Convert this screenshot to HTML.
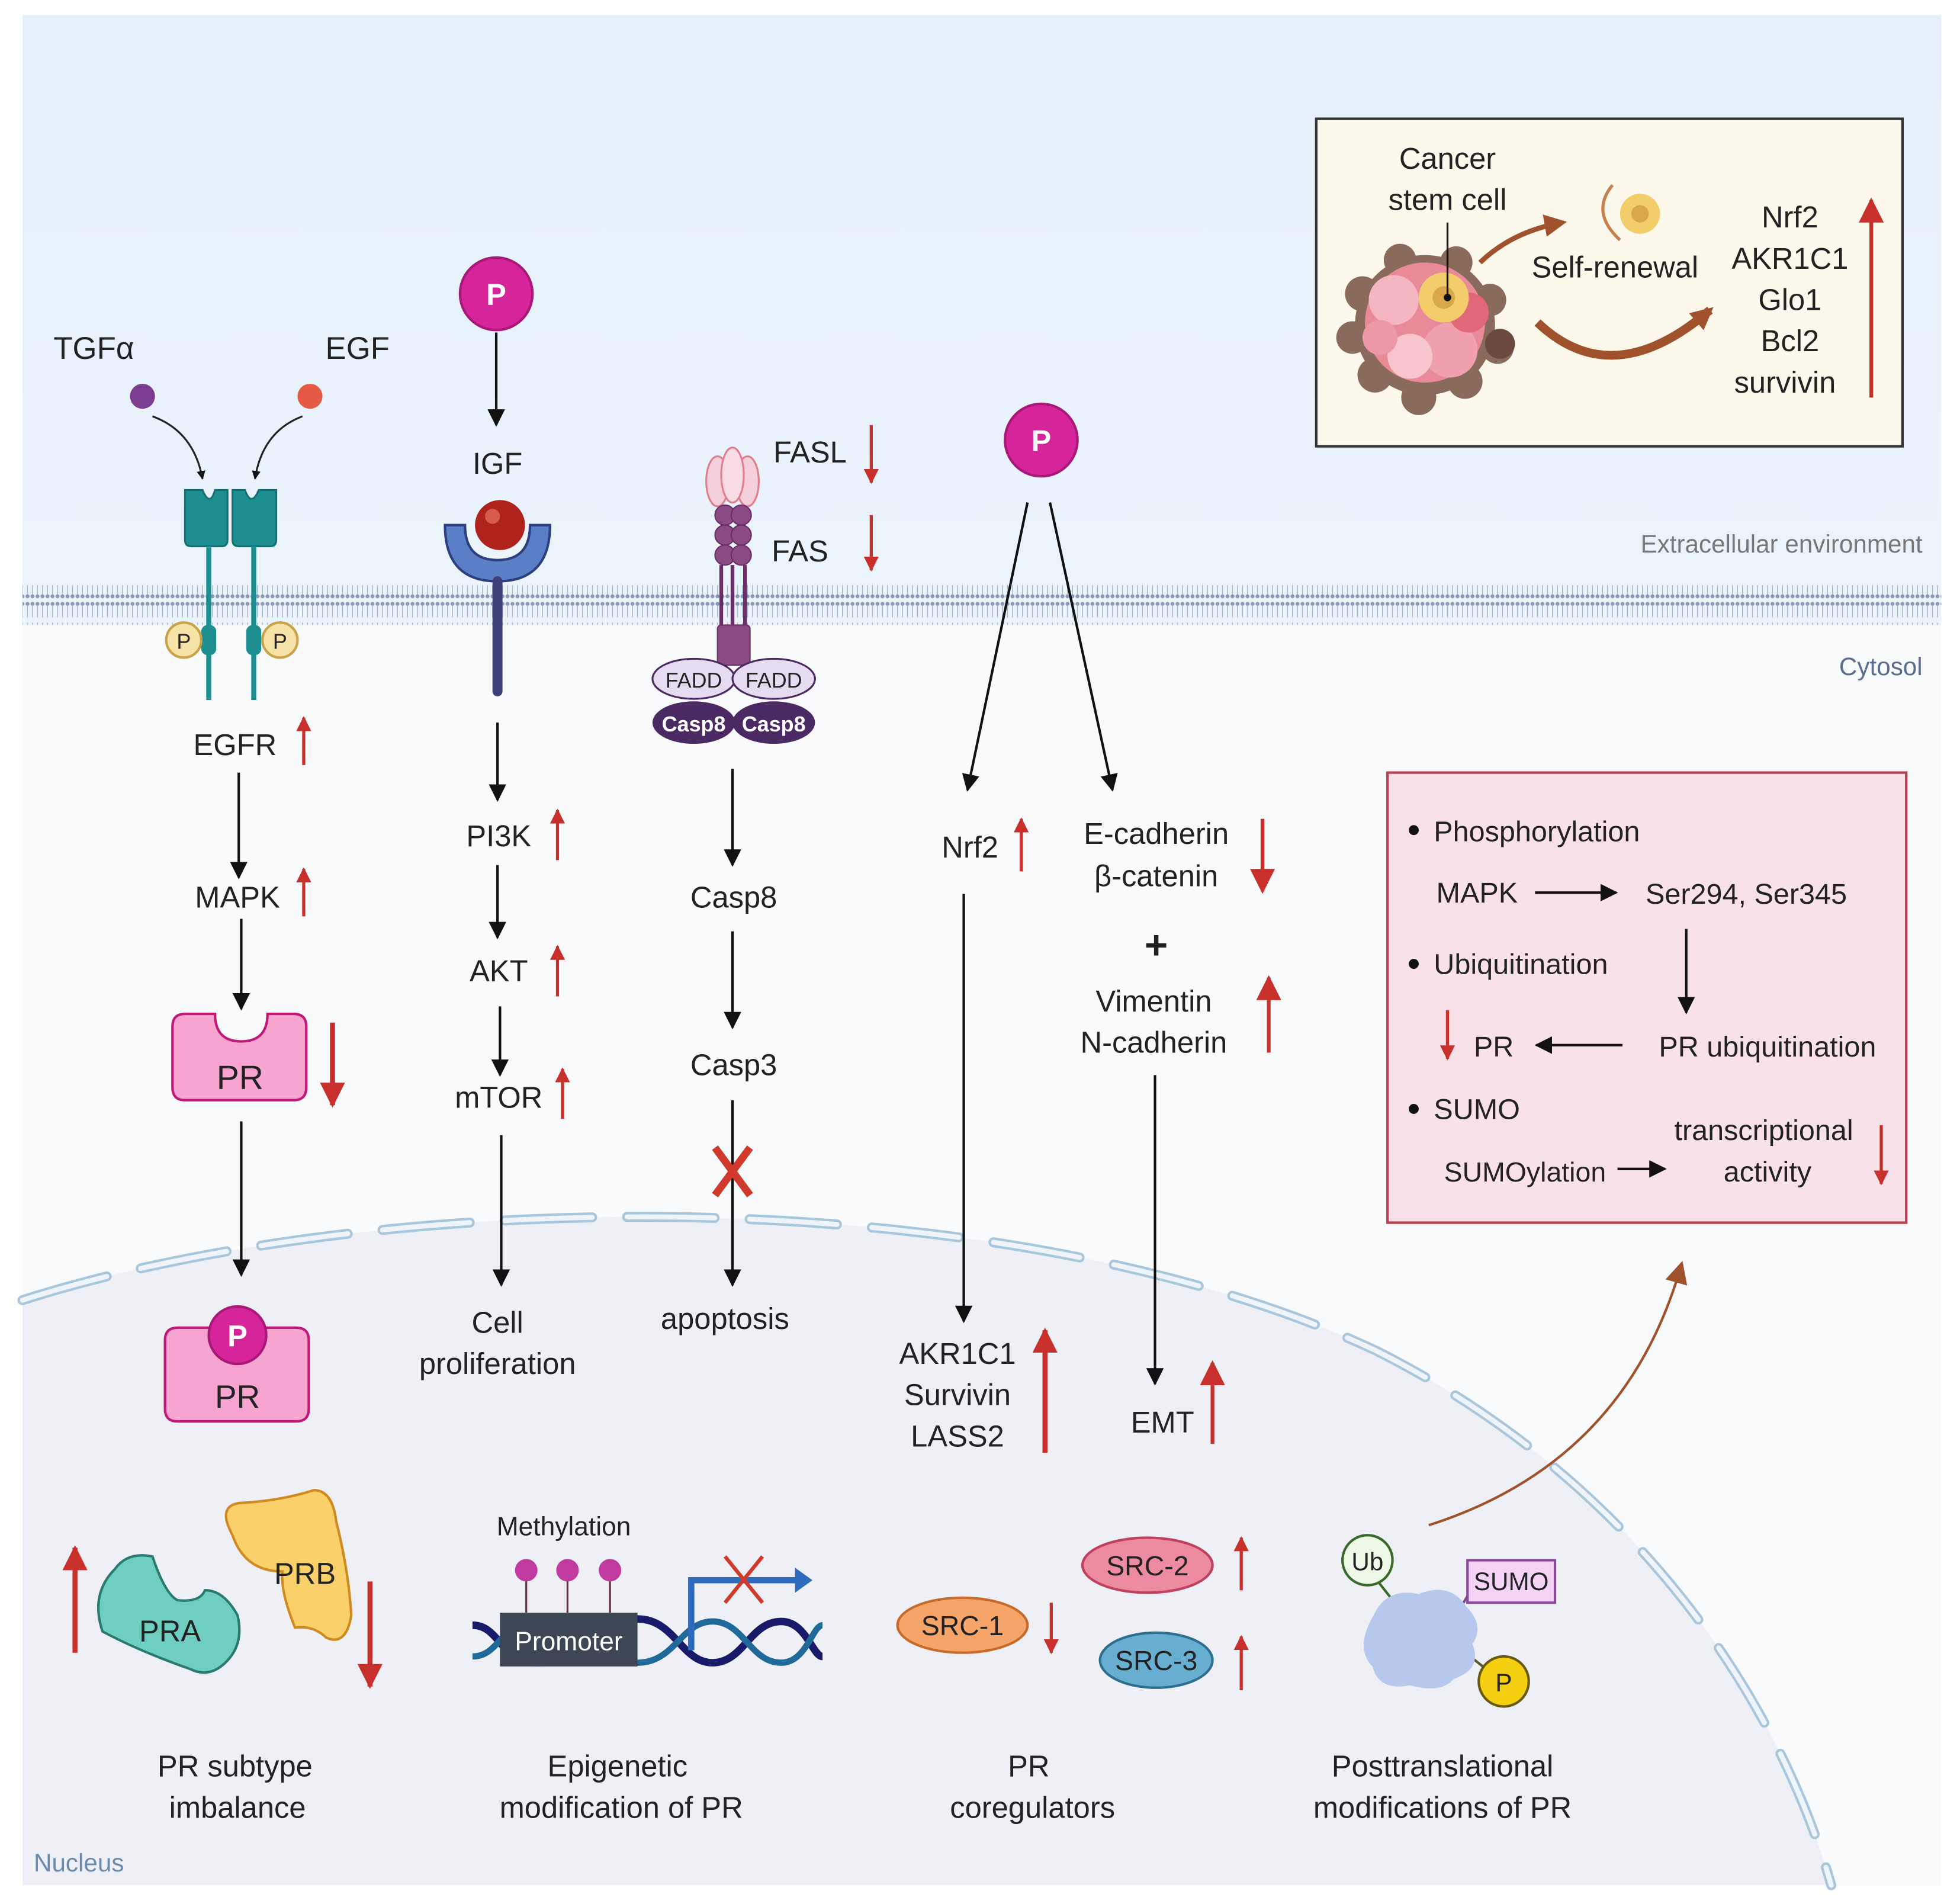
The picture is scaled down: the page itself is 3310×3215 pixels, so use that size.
<!DOCTYPE html>
<html><head><meta charset="utf-8"><style>
html,body{margin:0;padding:0;background:#fff;}
svg{display:block;}
text{font-family:"Liberation Sans",sans-serif;fill:#222;}
</style></head><body>
<svg width="3310" height="3215" viewBox="0 0 1568 1523" preserveAspectRatio="none" xmlns="http://www.w3.org/2000/svg">
<defs>
<linearGradient id="bg" x1="0" y1="0" x2="0" y2="1">
<stop offset="0" stop-color="#e5f0fa"/><stop offset="1" stop-color="#fafcfe"/>
</linearGradient>
<marker id="ah" viewBox="0 0 10 10" refX="9" refY="5" markerWidth="7" markerHeight="7" orient="auto" markerUnits="userSpaceOnUse">
<path d="M0,0 L10,5 L0,10 z" fill="#111"/></marker>
<marker id="bk" viewBox="0 0 10 10" refX="9" refY="5" markerWidth="14" markerHeight="14" orient="auto" markerUnits="userSpaceOnUse">
<path d="M0,0 L10,5 L0,10 z" fill="#111"/></marker>
<marker id="rd" viewBox="0 0 10 10" refX="9" refY="5" markerWidth="12" markerHeight="12" orient="auto" markerUnits="userSpaceOnUse">
<path d="M0,0 L10,5 L0,10 z" fill="#c8302c"/></marker>
<marker id="rdb" viewBox="0 0 10 10" refX="9" refY="5" markerWidth="20" markerHeight="20" orient="auto" markerUnits="userSpaceOnUse">
<path d="M0,0 L10,5 L0,10 z" fill="#c8302c"/></marker>
<marker id="br" viewBox="0 0 10 10" refX="8" refY="5" markerWidth="18" markerHeight="18" orient="auto" markerUnits="userSpaceOnUse">
<path d="M0,0 L10,5 L0,10 z" fill="#a0522d"/></marker>
<pattern id="mem" width="4" height="32" patternUnits="userSpaceOnUse">
<circle cx="2" cy="3" r="1.6" fill="#8a9ab8"/><line x1="2" y1="4" x2="2" y2="14" stroke="#aab6cc" stroke-width="0.7"/>
<line x1="2" y1="18" x2="2" y2="28" stroke="#aab6cc" stroke-width="0.7"/><circle cx="2" cy="29" r="1.6" fill="#8a9ab8"/>
</pattern>
</defs>
<rect x="18" y="12" width="1535" height="1496" fill="url(#bg)"/>
<rect x="18" y="500" width="1535" height="1008" fill="#f8fafc"/>
<path d="M18,1040 C300,950 800,940 1100,1080 C1300,1180 1420,1350 1465,1508 L18,1508 Z" fill="#eef0f5"/>
<path d="M18,1040 C300,950 800,940 1100,1080 C1300,1180 1420,1350 1465,1508" fill="none" stroke="#a8c6dc" stroke-width="8" stroke-dasharray="70,28" stroke-linecap="round"/>
<path d="M18,1040 C300,950 800,940 1100,1080 C1300,1180 1420,1350 1465,1508" fill="none" stroke="#eef4f9" stroke-width="4" stroke-dasharray="70,28" stroke-linecap="round"/>
<rect x="18" y="468" width="1535" height="32" fill="url(#mem)"/>
<text x="1538" y="442" font-size="20" text-anchor="end" style="fill:#777">Extracellular environment</text>
<text x="1538" y="540" font-size="20" text-anchor="end" style="fill:#5a6d90">Cytosol</text>
<text x="27" y="1497" font-size="20" style="fill:#6a8ab0">Nucleus</text>

<text x="75" y="287" font-size="25" text-anchor="middle">TGFα</text>
<text x="286" y="287" font-size="25" text-anchor="middle">EGF</text>
<circle cx="114" cy="317" r="10" fill="#7a3d8f"/>
<circle cx="248" cy="317" r="10" fill="#e65a45"/>
<path d="M122,333 Q155,345 162,383" fill="none" stroke="#222" stroke-width="1.5" marker-end="url(#ah)"/>
<path d="M242,333 Q210,345 204,383" fill="none" stroke="#222" stroke-width="1.5" marker-end="url(#ah)"/>
<path d="M148,392 h14 q6,14 10,0 h10 v40 q0,5 -5,5 h-24 q-5,0 -5,-5z" fill="#1e8f91" stroke="#137073" stroke-width="1.5"/>
<path d="M186,392 h10 q5,14 11,0 h14 v40 q0,5 -5,5 h-25 q-5,0 -5,-5z" fill="#1e8f91" stroke="#137073" stroke-width="1.5"/>
<line x1="167" y1="437" x2="167" y2="560" stroke="#1e8f91" stroke-width="4"/>
<line x1="203" y1="437" x2="203" y2="560" stroke="#1e8f91" stroke-width="4"/>
<rect x="161" y="500" width="12" height="24" rx="5" fill="#1e8f91"/>
<rect x="197" y="500" width="12" height="24" rx="5" fill="#1e8f91"/>
<circle cx="147" cy="512" r="14" fill="#f7e3a8" stroke="#c9a24a" stroke-width="2"/><text x="147" y="519" font-size="17" text-anchor="middle">P</text>
<circle cx="224" cy="512" r="14" fill="#f7e3a8" stroke="#c9a24a" stroke-width="2"/><text x="224" y="519" font-size="17" text-anchor="middle">P</text>
<text x="188" y="604" font-size="24" text-anchor="middle">EGFR</text>
<line x1="243" y1="612" x2="243" y2="574" stroke="#c8302c" stroke-width="2.5" marker-end="url(#rd)"/>
<line x1="191" y1="618" x2="191" y2="702" stroke="#111" stroke-width="2" marker-end="url(#bk)"/>
<text x="190" y="726" font-size="24" text-anchor="middle">MAPK</text>
<line x1="243" y1="733" x2="243" y2="695" stroke="#c8302c" stroke-width="2.5" marker-end="url(#rd)"/>
<line x1="193" y1="735" x2="193" y2="807" stroke="#111" stroke-width="2" marker-end="url(#bk)"/>
<path d="M148,811 h24 q0,22 21,22 q21,0 21,-22 h21 q10,0 10,10 v49 q0,10 -10,10 h-87 q-10,0 -10,-10 v-49 q0,-10 10,-10z" fill="#f7a5d0" stroke="#c2187a" stroke-width="2"/>
<text x="192" y="871" font-size="27" text-anchor="middle">PR</text>
<line x1="266" y1="818" x2="266" y2="884" stroke="#c8302c" stroke-width="4" marker-end="url(#rdb)"/>
<line x1="193" y1="897" x2="193" y2="1020" stroke="#111" stroke-width="2" marker-end="url(#bk)"/>
<path d="M142,1062 h95 q10,0 10,10 v55 q0,10 -10,10 h-95 q-10,0 -10,-10 v-55 q0,-10 10,-10z" fill="#f7a5d0" stroke="#c2187a" stroke-width="2"/>
<circle cx="190" cy="1068" r="23" fill="#d6249a" stroke="#a81877" stroke-width="2"/>
<text x="190" y="1077" font-size="24" text-anchor="middle" style="fill:#fff" font-weight="bold">P</text>
<text x="190" y="1126" font-size="26" text-anchor="middle">PR</text>

<circle cx="397" cy="235" r="29" fill="#d6249a" stroke="#a81877" stroke-width="2"/>
<text x="397" y="244" font-size="24" text-anchor="middle" style="fill:#fff" font-weight="bold">P</text>
<line x1="397" y1="266" x2="397" y2="340" stroke="#111" stroke-width="2" marker-end="url(#bk)"/>
<text x="398" y="379" font-size="24" text-anchor="middle">IGF</text>
<path d="M356,420 q0,45 42,45 q42,0 42,-45 h-16 q0,28 -26,28 q-26,0 -26,-28z" fill="#5b7fc7" stroke="#2d3f80" stroke-width="2"/>
<circle cx="400" cy="420" r="20" fill="#b0221c"/><circle cx="394" cy="413" r="6" fill="#d65a50"/>
<line x1="398" y1="465" x2="398" y2="553" stroke="#3d3f7a" stroke-width="8" stroke-linecap="round"/>
<line x1="398" y1="578" x2="398" y2="640" stroke="#111" stroke-width="2" marker-end="url(#bk)"/>
<text x="399" y="677" font-size="24" text-anchor="middle">PI3K</text>
<line x1="446" y1="688" x2="446" y2="648" stroke="#c8302c" stroke-width="2.5" marker-end="url(#rd)"/>
<line x1="398" y1="692" x2="398" y2="750" stroke="#111" stroke-width="2" marker-end="url(#bk)"/>
<text x="399" y="785" font-size="24" text-anchor="middle">AKT</text>
<line x1="446" y1="797" x2="446" y2="757" stroke="#c8302c" stroke-width="2.5" marker-end="url(#rd)"/>
<line x1="400" y1="805" x2="400" y2="860" stroke="#111" stroke-width="2" marker-end="url(#bk)"/>
<text x="399" y="886" font-size="24" text-anchor="middle">mTOR</text>
<line x1="450" y1="895" x2="450" y2="855" stroke="#c8302c" stroke-width="2.5" marker-end="url(#rd)"/>
<line x1="401" y1="908" x2="401" y2="1028" stroke="#111" stroke-width="2" marker-end="url(#bk)"/>
<text x="398" y="1066" font-size="24" text-anchor="middle">Cell</text>
<text x="398" y="1099" font-size="24" text-anchor="middle">proliferation</text>

<ellipse cx="574" cy="385" rx="9" ry="20" fill="#f6cfdc" stroke="#e0808f" stroke-width="1.5"/>
<ellipse cx="598" cy="385" rx="9" ry="20" fill="#f6cfdc" stroke="#e0808f" stroke-width="1.5"/>
<ellipse cx="586" cy="380" rx="9" ry="22" fill="#f8dbe4" stroke="#e0808f" stroke-width="1.5"/>
<g fill="#8a4a84" stroke="#6a2d66" stroke-width="1">
<circle cx="580" cy="412" r="8"/><circle cx="593" cy="412" r="8"/>
<circle cx="580" cy="428" r="8"/><circle cx="593" cy="428" r="8"/>
<circle cx="580" cy="444" r="8"/><circle cx="593" cy="444" r="8"/>
</g>
<line x1="577" y1="452" x2="577" y2="505" stroke="#6a2d66" stroke-width="3"/>
<line x1="586" y1="452" x2="586" y2="505" stroke="#6a2d66" stroke-width="3"/>
<line x1="596" y1="452" x2="596" y2="505" stroke="#6a2d66" stroke-width="3"/>
<rect x="574" y="500" width="26" height="32" rx="3" fill="#8a4a84" stroke="#6a2d66"/>
<ellipse cx="555" cy="543" rx="33" ry="16" fill="#e6dcf2" stroke="#4b2a63" stroke-width="1.5"/>
<ellipse cx="619" cy="543" rx="33" ry="16" fill="#e6dcf2" stroke="#4b2a63" stroke-width="1.5"/>
<text x="555" y="550" font-size="17" text-anchor="middle">FADD</text>
<text x="619" y="550" font-size="17" text-anchor="middle">FADD</text>
<ellipse cx="555" cy="578" rx="33" ry="17" fill="#4b2a63"/>
<ellipse cx="619" cy="578" rx="33" ry="17" fill="#4b2a63"/>
<text x="555" y="585" font-size="17" text-anchor="middle" font-weight="bold" style="fill:#fff">Casp8</text>
<text x="619" y="585" font-size="17" text-anchor="middle" font-weight="bold" style="fill:#fff">Casp8</text>
<text x="648" y="370" font-size="24" text-anchor="middle">FASL</text>
<line x1="697" y1="340" x2="697" y2="386" stroke="#c8302c" stroke-width="2.5" marker-end="url(#rd)"/>
<text x="640" y="449" font-size="24" text-anchor="middle">FAS</text>
<line x1="697" y1="412" x2="697" y2="456" stroke="#c8302c" stroke-width="2.5" marker-end="url(#rd)"/>
<line x1="586" y1="615" x2="586" y2="692" stroke="#111" stroke-width="2" marker-end="url(#bk)"/>
<text x="587" y="726" font-size="24" text-anchor="middle">Casp8</text>
<line x1="586" y1="745" x2="586" y2="822" stroke="#111" stroke-width="2" marker-end="url(#bk)"/>
<text x="587" y="860" font-size="24" text-anchor="middle">Casp3</text>
<line x1="586" y1="880" x2="586" y2="1028" stroke="#111" stroke-width="2" marker-end="url(#bk)"/>
<path d="M572,918 L600,956 M600,918 L572,956" stroke="#d03a2c" stroke-width="6"/>
<text x="580" y="1063" font-size="24" text-anchor="middle">apoptosis</text>

<circle cx="833" cy="352" r="29" fill="#d6249a" stroke="#a81877" stroke-width="2"/>
<text x="833" y="361" font-size="24" text-anchor="middle" style="fill:#fff" font-weight="bold">P</text>
<line x1="822" y1="402" x2="774" y2="632" stroke="#111" stroke-width="2" marker-end="url(#bk)"/>
<line x1="840" y1="402" x2="890" y2="632" stroke="#111" stroke-width="2" marker-end="url(#bk)"/>
<text x="776" y="686" font-size="24" text-anchor="middle">Nrf2</text>
<line x1="817" y1="697" x2="817" y2="655" stroke="#c8302c" stroke-width="2.5" marker-end="url(#rd)"/>
<text x="925" y="675" font-size="24" text-anchor="middle">E-cadherin</text>
<text x="925" y="709" font-size="24" text-anchor="middle">β-catenin</text>
<line x1="1010" y1="655" x2="1010" y2="713" stroke="#c8302c" stroke-width="3" marker-end="url(#rdb)"/>
<text x="925" y="767" font-size="32" text-anchor="middle" font-weight="bold">+</text>
<text x="923" y="809" font-size="24" text-anchor="middle">Vimentin</text>
<text x="923" y="842" font-size="24" text-anchor="middle">N-cadherin</text>
<line x1="1015" y1="842" x2="1015" y2="782" stroke="#c8302c" stroke-width="3" marker-end="url(#rdb)"/>
<line x1="771" y1="715" x2="771" y2="1057" stroke="#111" stroke-width="2" marker-end="url(#bk)"/>
<text x="766" y="1091" font-size="24" text-anchor="middle">AKR1C1</text>
<text x="766" y="1124" font-size="24" text-anchor="middle">Survivin</text>
<text x="766" y="1157" font-size="24" text-anchor="middle">LASS2</text>
<line x1="836" y1="1162" x2="836" y2="1064" stroke="#c8302c" stroke-width="4" marker-end="url(#rdb)"/>
<line x1="924" y1="860" x2="924" y2="1107" stroke="#111" stroke-width="2" marker-end="url(#bk)"/>
<text x="930" y="1146" font-size="24" text-anchor="middle">EMT</text>
<line x1="970" y1="1155" x2="970" y2="1090" stroke="#c8302c" stroke-width="3" marker-end="url(#rdb)"/>

<rect x="1053" y="95" width="469" height="262" fill="#fdf8ec" stroke="#333" stroke-width="2"/>
<text x="1158" y="135" font-size="24" text-anchor="middle">Cancer</text>
<text x="1158" y="168" font-size="24" text-anchor="middle">stem cell</text>
<g>
<g fill="#8a6a5a"><circle cx="1090" cy="235" r="14"/><circle cx="1082" cy="270" r="13"/><circle cx="1100" cy="300" r="14"/><circle cx="1135" cy="318" r="14"/><circle cx="1172" cy="305" r="14"/><circle cx="1198" cy="278" r="13"/><circle cx="1192" cy="240" r="13"/><circle cx="1165" cy="210" r="13"/><circle cx="1120" cy="208" r="13"/></g>
<circle cx="1140" cy="260" r="56" fill="#8a6a5a"/>
<circle cx="1140" cy="258" r="48" fill="#e88a98"/>
<circle cx="1115" cy="240" r="20" fill="#f4b6c0"/><circle cx="1160" cy="280" r="22" fill="#f0a0ae"/>
<circle cx="1128" cy="285" r="18" fill="#f6c6cc"/><circle cx="1175" cy="250" r="16" fill="#e06878"/>
<circle cx="1104" cy="270" r="14" fill="#ec98a6"/><circle cx="1200" cy="275" r="12" fill="#6a4a3e"/>
<circle cx="1155" cy="238" r="20" fill="#f3cd6a"/><circle cx="1155" cy="238" r="9" fill="#d9a84a"/>
</g>
<line x1="1158" y1="178" x2="1158" y2="238" stroke="#111" stroke-width="1.5"/><circle cx="1158" cy="238" r="3" fill="#111"/>
<path d="M1184,210 Q1210,185 1250,178" fill="none" stroke="#a0522d" stroke-width="4" marker-end="url(#br)"/>
<circle cx="1312" cy="171" r="16" fill="#f3cd6a"/><circle cx="1312" cy="171" r="7" fill="#d9a84a"/>
<path d="M1290,148 Q1272,170 1296,192" fill="none" stroke="#c8804a" stroke-width="2.5"/>
<text x="1292" y="222" font-size="24" text-anchor="middle">Self-renewal</text>
<path d="M1230,258 Q1290,315 1368,248" fill="none" stroke="#a0522d" stroke-width="7" marker-end="url(#br)"/>
<text x="1432" y="182" font-size="24" text-anchor="middle">Nrf2</text>
<text x="1432" y="215" font-size="24" text-anchor="middle">AKR1C1</text>
<text x="1432" y="248" font-size="24" text-anchor="middle">Glo1</text>
<text x="1432" y="281" font-size="24" text-anchor="middle">Bcl2</text>
<text x="1428" y="314" font-size="24" text-anchor="middle">survivin</text>
<line x1="1497" y1="318" x2="1497" y2="160" stroke="#c8302c" stroke-width="3" marker-end="url(#rdb)"/>

<rect x="1110" y="618" width="415" height="360" fill="#f8e1e8" stroke="#b84050" stroke-width="2"/>
<circle cx="1131" cy="664" r="4" fill="#111"/><text x="1147" y="673" font-size="23">Phosphorylation</text>
<text x="1149" y="722" font-size="23">MAPK</text>
<line x1="1228" y1="714" x2="1293" y2="714" stroke="#111" stroke-width="2" marker-end="url(#bk)"/>
<text x="1397" y="723" font-size="23" text-anchor="middle">Ser294, Ser345</text>
<line x1="1349" y1="743" x2="1349" y2="810" stroke="#111" stroke-width="2" marker-end="url(#bk)"/>
<circle cx="1131" cy="771" r="4" fill="#111"/><text x="1147" y="779" font-size="23">Ubiquitination</text>
<line x1="1158" y1="808" x2="1158" y2="847" stroke="#c8302c" stroke-width="2.5" marker-end="url(#rd)"/>
<text x="1195" y="845" font-size="23" text-anchor="middle">PR</text>
<line x1="1298" y1="836" x2="1229" y2="836" stroke="#111" stroke-width="2" marker-end="url(#bk)"/>
<text x="1414" y="845" font-size="23" text-anchor="middle">PR ubiquitination</text>
<circle cx="1131" cy="887" r="4" fill="#111"/><text x="1147" y="895" font-size="23">SUMO</text>
<text x="1411" y="912" font-size="23" text-anchor="middle">transcriptional</text>
<text x="1414" y="945" font-size="23" text-anchor="middle">activity</text>
<text x="1220" y="945" font-size="22" text-anchor="middle">SUMOylation</text>
<line x1="1294" y1="935" x2="1332" y2="935" stroke="#111" stroke-width="2" marker-end="url(#bk)"/>
<line x1="1505" y1="900" x2="1505" y2="947" stroke="#c8302c" stroke-width="2.5" marker-end="url(#rd)"/>

<path d="M1143,1220 Q1300,1170 1345,1012" fill="none" stroke="#a0522d" stroke-width="2" marker-end="url(#br)"/>

<line x1="60" y1="1322" x2="60" y2="1238" stroke="#c8302c" stroke-width="4" marker-end="url(#rdb)"/>
<path d="M186,1228 q-14,-26 10,-26 q30,-2 55,-10 q15,0 18,25 q10,40 12,75 q-4,25 -20,18 q-10,-10 -25,-8 q-12,-30 -10,-45 q-30,0 -40,-29z" fill="#f9d06a" stroke="#d08a20" stroke-width="2"/>
<text x="244" y="1267" font-size="24" text-anchor="middle">PRB</text>
<path d="M82,1305 q-10,-30 10,-50 q10,-14 30,-10 q10,30 20,35 q18,2 22,-8 q15,0 26,20 q6,25 -12,40 q-12,10 -26,3 q-40,-14 -70,-30z" fill="#6ecfc0" stroke="#2a7a72" stroke-width="2"/>
<text x="136" y="1313" font-size="24" text-anchor="middle">PRA</text>
<line x1="296" y1="1265" x2="296" y2="1349" stroke="#c8302c" stroke-width="4" marker-end="url(#rdb)"/>
<text x="188" y="1421" font-size="24" text-anchor="middle">PR subtype</text>
<text x="190" y="1454" font-size="24" text-anchor="middle">imbalance</text>

<text x="451" y="1228" font-size="21" text-anchor="middle">Methylation</text>
<g stroke="#6a2d4a" stroke-width="1.5"><line x1="421" y1="1262" x2="421" y2="1292"/><line x1="454" y1="1262" x2="454" y2="1292"/><line x1="488" y1="1262" x2="488" y2="1292"/></g>
<circle cx="421" cy="1256" r="9" fill="#c03aa0"/><circle cx="454" cy="1256" r="9" fill="#c03aa0"/><circle cx="488" cy="1256" r="9" fill="#c03aa0"/>
<path d="M378,1300 C400,1300 400,1330 430,1330 C460,1330 470,1295 510,1295 C540,1295 545,1330 570,1330 C595,1330 600,1297 625,1297 C645,1297 650,1325 658,1325" fill="none" stroke="#1a1a6a" stroke-width="6"/>
<path d="M378,1325 C400,1325 400,1297 430,1297 C460,1297 470,1330 510,1330 C540,1330 545,1297 570,1297 C595,1297 600,1330 625,1330 C645,1330 650,1300 658,1300" fill="none" stroke="#1f6a9a" stroke-width="5"/>
<rect x="400" y="1290" width="110" height="43" fill="#3c4655"/>
<text x="455" y="1320" font-size="21" text-anchor="middle" style="fill:#fff">Promoter</text>
<path d="M553,1320 V1264 H640" fill="none" stroke="#2f6bbd" stroke-width="5"/>
<path d="M636,1254 L650,1264 L636,1274z" fill="#2f6bbd"/>
<path d="M580,1245 L610,1282 M610,1245 L580,1282" stroke="#d03a2c" stroke-width="3"/>
<text x="494" y="1421" font-size="24" text-anchor="middle">Epigenetic</text>
<text x="497" y="1454" font-size="24" text-anchor="middle">modification of PR</text>

<ellipse cx="918" cy="1252" rx="52" ry="22" fill="#ec8aa0" stroke="#c04060" stroke-width="2"/>
<text x="918" y="1260" font-size="22" text-anchor="middle">SRC-2</text>
<ellipse cx="770" cy="1300" rx="52" ry="22" fill="#f5a56a" stroke="#c86a2a" stroke-width="2"/>
<text x="770" y="1308" font-size="22" text-anchor="middle">SRC-1</text>
<ellipse cx="925" cy="1328" rx="45" ry="22" fill="#68aed0" stroke="#2e6f90" stroke-width="2"/>
<text x="925" y="1336" font-size="22" text-anchor="middle">SRC-3</text>
<line x1="993" y1="1272" x2="993" y2="1230" stroke="#c8302c" stroke-width="2.5" marker-end="url(#rd)"/>
<line x1="841" y1="1282" x2="841" y2="1322" stroke="#c8302c" stroke-width="2.5" marker-end="url(#rd)"/>
<line x1="993" y1="1352" x2="993" y2="1309" stroke="#c8302c" stroke-width="2.5" marker-end="url(#rd)"/>
<text x="823" y="1421" font-size="24" text-anchor="middle">PR</text>
<text x="826" y="1454" font-size="24" text-anchor="middle">coregulators</text>

<line x1="1100" y1="1262" x2="1122" y2="1290" stroke="#3a6a2a" stroke-width="2"/>
<line x1="1175" y1="1275" x2="1160" y2="1300" stroke="#7a4a8a" stroke-width="2"/>
<line x1="1170" y1="1320" x2="1195" y2="1340" stroke="#5a5a2a" stroke-width="2"/>
<path d="M1100,1290 q10,-20 35,-15 q25,-10 38,10 q15,15 5,30 q8,20 -15,28 q-10,12 -35,5 q-25,5 -30,-15 q-15,-15 2,-43z" fill="#b6c8ec"/>
<circle cx="1094" cy="1248" r="20" fill="#eef8e6" stroke="#3a6a2a" stroke-width="2"/>
<text x="1094" y="1256" font-size="20" text-anchor="middle">Ub</text>
<rect x="1174" y="1248" width="70" height="34" fill="#f4d4f6" stroke="#8a4a9a" stroke-width="2"/>
<text x="1209" y="1272" font-size="20" text-anchor="middle">SUMO</text>
<circle cx="1203" cy="1345" r="20" fill="#f4d010" stroke="#6a5a10" stroke-width="2"/>
<text x="1203" y="1353" font-size="20" text-anchor="middle">P</text>
<text x="1154" y="1421" font-size="24" text-anchor="middle">Posttranslational</text>
<text x="1154" y="1454" font-size="24" text-anchor="middle">modifications of PR</text>
</svg>
</body></html>
